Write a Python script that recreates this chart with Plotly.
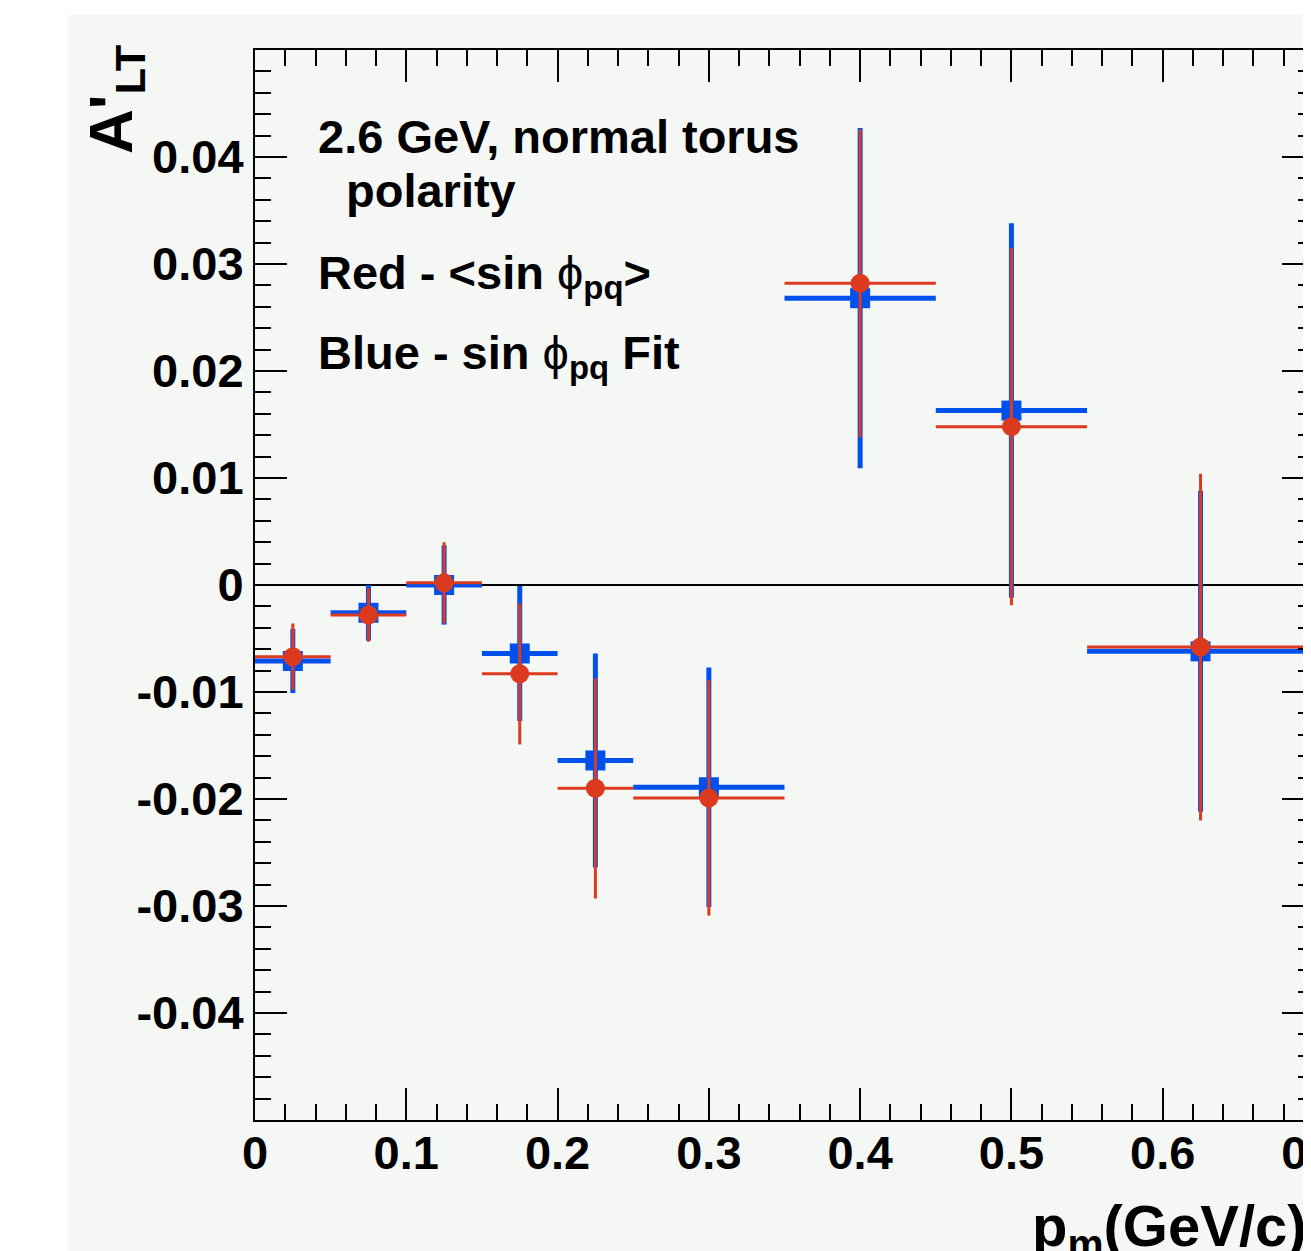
import plotly.graph_objects as go

# ---------------- data ----------------
x_center = [0.025, 0.075, 0.125, 0.175, 0.225, 0.3, 0.4, 0.5, 0.625]
x_halfwidth = [0.025, 0.025, 0.025, 0.025, 0.025, 0.05, 0.05, 0.05, 0.075]

blue_fit_y = [-0.0071, -0.0026, 0.0000, -0.0064, -0.0164, -0.0189, 0.0268, 0.0163, -0.0062]
blue_fit_err = [0.0030, 0.0026, 0.0037, 0.0063, 0.0100, 0.0112, 0.0159, 0.0175, 0.0150]

red_mean_y = [-0.0067, -0.0028, 0.0002, -0.0083, -0.0190, -0.0199, 0.0282, 0.0148, -0.0058]
red_mean_err = [0.0031, 0.0025, 0.0038, 0.0066, 0.0103, 0.0110, 0.0144, 0.0167, 0.0162]

x_tick_vals = [0, 0.1, 0.2, 0.3, 0.4, 0.5, 0.6, 0.7]
x_tick_text = ["0", "0.1", "0.2", "0.3", "0.4", "0.5", "0.6", "0.7"]
y_tick_vals = [-0.04, -0.03, -0.02, -0.01, 0, 0.01, 0.02, 0.03, 0.04]
y_tick_text = ["-0.04", "-0.03", "-0.02", "-0.01", "0", "0.01", "0.02", "0.03", "0.04"]

# ---------------- layout geometry (page pixels) ----------------
BODY = 8                      # default body margin of the html page
PL, PR, PT, PB = 255, 1314, 50, 1120   # plot area in page pixels
FIG_W, FIG_H = 1360, 1290

def px(xp):
    return (xp - PL) / (PR - PL)

def py(yp):
    return (PB - yp) / (PB - PT)

BLUE = "#0050ee"
RED = "#dc3a1e"
BG = "#f5f7f5"
FONT = "Liberation Sans, Arial, sans-serif"

fig = go.Figure()

fig.add_trace(go.Scatter(
    x=x_center, y=blue_fit_y, mode="markers",
    marker=dict(symbol="square", size=20, color=BLUE),
    error_x=dict(type="data", array=x_halfwidth, color=BLUE, thickness=5, width=0),
    error_y=dict(type="data", array=blue_fit_err, color=BLUE, thickness=5, width=0),
    name="sin phi fit", showlegend=False,
))
fig.add_trace(go.Scatter(
    x=x_center, y=red_mean_y, mode="markers",
    marker=dict(symbol="circle", size=19, color=RED),
    error_x=dict(type="data", array=x_halfwidth, color=RED, thickness=3, width=0),
    error_y=dict(type="data", array=red_mean_err, color=RED, thickness=3, width=0),
    name="<sin phi>", showlegend=False,
))

tickfont = dict(family=FONT, size=47, color="black", weight="bold")

fig.update_xaxes(
    range=[0, 0.7], showgrid=False, zeroline=False,
    showline=True, linecolor="black", linewidth=2, mirror="allticks",
    ticks="inside", ticklen=32, tickwidth=2, tickcolor="black",
    tickvals=x_tick_vals, ticktext=x_tick_text, tickfont=tickfont,
    ticklabeloverflow="allow", ticklabelstandoff=-9,
    minor=dict(dtick=0.02, ticks="inside", ticklen=16, tickwidth=2, tickcolor="black", showgrid=False),
)
fig.update_yaxes(
    range=[-0.05, 0.05], showgrid=False,
    zeroline=True, zerolinecolor="black", zerolinewidth=2,
    showline=True, linecolor="black", linewidth=2, mirror="allticks",
    ticks="inside", ticklen=32, tickwidth=2, tickcolor="black",
    tickvals=y_tick_vals, ticktext=y_tick_text, tickfont=tickfont,
    minor=dict(dtick=0.002, ticks="inside", ticklen=16, tickwidth=2, tickcolor="black", showgrid=False),
)

txt = dict(family=FONT, size=47, color="black", weight="bold")
annotations = [
    dict(text="2.6 GeV, normal torus", x=px(316), y=py(120 - 12)),
    dict(text="polarity", x=px(344), y=py(174 - 12)),
    dict(text="Red - &lt;sin <span style='font-weight:normal'>ϕ</span><sub>pq</sub>&gt;", x=px(316), y=py(256 - 12)),
    dict(text="Blue - sin <span style='font-weight:normal'>ϕ</span><sub>pq</sub> Fit", x=px(316), y=py(336 - 12)),
]
for a in annotations:
    fig.add_annotation(xref="paper", yref="paper", xanchor="left", yanchor="top",
                       showarrow=False, font=txt, **a)

# axis titles
fig.add_annotation(text="p<sub>m</sub>(GeV/c)", xref="paper", yref="paper",
                   x=px(1309), y=py(1205 - 14), xanchor="right", yanchor="top",
                   showarrow=False, font=dict(family=FONT, size=58, color="black", weight="bold"))
fig.add_annotation(text="A'<sub>LT</sub>", xref="paper", yref="paper", textangle=-90,
                   x=px(74), y=py(42), xanchor="left", yanchor="top",
                   showarrow=False, font=dict(family=FONT, size=62, color="black", weight="bold"))

# grey canvas (white strip on left/top like the reference)
fig.add_shape(type="rect", xref="paper", yref="paper",
              x0=px(68), x1=px(1420), y0=py(1400), y1=py(15),
              fillcolor=BG, line=dict(width=0), layer="below")

fig.update_layout(
    width=FIG_W, height=FIG_H, autosize=False,
    margin=dict(l=PL - BODY, r=FIG_W - (PR - BODY), t=PT - BODY, b=FIG_H - (PB - BODY), pad=0),
    paper_bgcolor="white", plot_bgcolor=BG,
    font=dict(family=FONT, color="black"),
)

fig.write_html(
    "out.html",
    post_script="document.documentElement.style.overflow='hidden';document.body.style.overflow='hidden';",
)
